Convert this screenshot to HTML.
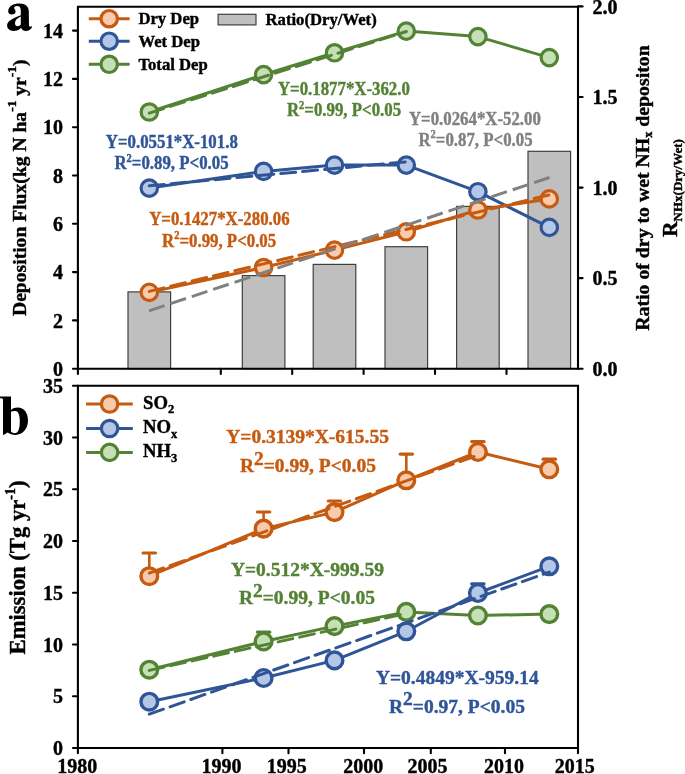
<!DOCTYPE html>
<html><head><meta charset="utf-8"><style>
html,body{margin:0;padding:0;background:#fff;width:685px;height:774px;overflow:hidden}
svg{display:block;font-family:"Liberation Serif",serif;font-weight:bold;will-change:transform}
text{stroke-width:0.4px;stroke-linejoin:round}
</style></head><body>
<svg width="685" height="774" viewBox="0 0 685 774">
<rect x="128.0" y="291.9" width="42.6" height="76.8" fill="#BFBFBF" stroke="#404040" stroke-width="1.2"/>
<rect x="242.3" y="275.6" width="42.6" height="93.1" fill="#BFBFBF" stroke="#404040" stroke-width="1.2"/>
<rect x="313.2" y="264.4" width="42.6" height="104.3" fill="#BFBFBF" stroke="#404040" stroke-width="1.2"/>
<rect x="385.0" y="246.7" width="42.6" height="122.0" fill="#BFBFBF" stroke="#404040" stroke-width="1.2"/>
<rect x="456.6" y="206.4" width="42.6" height="162.3" fill="#BFBFBF" stroke="#404040" stroke-width="1.2"/>
<rect x="528.0" y="151.3" width="42.6" height="217.3" fill="#BFBFBF" stroke="#404040" stroke-width="1.2"/>
<polyline points="149.3,188.1 263.6,171.4 334.5,165.1 406.3,165.1 477.9,191.7 549.3,227.4" fill="none" stroke="#2F5597" stroke-width="3.0" stroke-linejoin="round"/>
<circle cx="149.3" cy="188.1" r="8.2" fill="#B4C7E7" stroke="#2F5597" stroke-width="3.2"/>
<circle cx="263.6" cy="171.4" r="8.2" fill="#B4C7E7" stroke="#2F5597" stroke-width="3.2"/>
<circle cx="334.5" cy="165.1" r="8.2" fill="#B4C7E7" stroke="#2F5597" stroke-width="3.2"/>
<circle cx="406.3" cy="165.1" r="8.2" fill="#B4C7E7" stroke="#2F5597" stroke-width="3.2"/>
<circle cx="477.9" cy="191.7" r="8.2" fill="#B4C7E7" stroke="#2F5597" stroke-width="3.2"/>
<circle cx="549.3" cy="227.4" r="8.2" fill="#B4C7E7" stroke="#2F5597" stroke-width="3.2"/>
<polyline points="149.3,112.0 263.6,74.6 334.5,52.8 406.3,31.1 477.9,36.6 549.3,57.6" fill="none" stroke="#548235" stroke-width="3.0" stroke-linejoin="round"/>
<circle cx="149.3" cy="112.0" r="8.2" fill="#C5E0B4" stroke="#548235" stroke-width="3.2"/>
<circle cx="263.6" cy="74.6" r="8.2" fill="#C5E0B4" stroke="#548235" stroke-width="3.2"/>
<circle cx="334.5" cy="52.8" r="8.2" fill="#C5E0B4" stroke="#548235" stroke-width="3.2"/>
<circle cx="406.3" cy="31.1" r="8.2" fill="#C5E0B4" stroke="#548235" stroke-width="3.2"/>
<circle cx="477.9" cy="36.6" r="8.2" fill="#C5E0B4" stroke="#548235" stroke-width="3.2"/>
<circle cx="549.3" cy="57.6" r="8.2" fill="#C5E0B4" stroke="#548235" stroke-width="3.2"/>
<polyline points="149.3,292.4 263.6,267.5 334.5,250.1 406.3,231.8 477.9,210.0 549.3,198.9" fill="none" stroke="#C55A11" stroke-width="3.0" stroke-linejoin="round"/>
<circle cx="149.3" cy="292.4" r="8.2" fill="#F8CBAD" stroke="#C55A11" stroke-width="3.2"/>
<circle cx="263.6" cy="267.5" r="8.2" fill="#F8CBAD" stroke="#C55A11" stroke-width="3.2"/>
<circle cx="334.5" cy="250.1" r="8.2" fill="#F8CBAD" stroke="#C55A11" stroke-width="3.2"/>
<circle cx="406.3" cy="231.8" r="8.2" fill="#F8CBAD" stroke="#C55A11" stroke-width="3.2"/>
<circle cx="477.9" cy="210.0" r="8.2" fill="#F8CBAD" stroke="#C55A11" stroke-width="3.2"/>
<circle cx="549.3" cy="198.9" r="8.2" fill="#F8CBAD" stroke="#C55A11" stroke-width="3.2"/>
<line x1="149.3" y1="185.8" x2="406.4" y2="161.8" stroke="#2F5597" stroke-width="3.0" stroke-linecap="round" stroke-dasharray="15 7"/>
<line x1="149.3" y1="113.1" x2="406.4" y2="31.5" stroke="#548235" stroke-width="3.0" stroke-linecap="round" stroke-dasharray="15 7"/>
<line x1="149.3" y1="291.4" x2="549.3" y2="194.9" stroke="#C55A11" stroke-width="3.0" stroke-linecap="round" stroke-dasharray="15 7"/>
<line x1="149.0" y1="310.8" x2="549.5" y2="177.5" stroke="#808080" stroke-width="3.0" stroke-linecap="butt" stroke-dasharray="16.4 6.15"/>
<path d="M77.9,6.7 V368.7 H578.0 V6.7 Z" fill="none" stroke="#000" stroke-width="2.1"/>
<line x1="73.0" y1="368.7" x2="77.9" y2="368.7" stroke="#000" stroke-width="2.1" stroke-linecap="round"/>
<text x="63.0" y="375.8" font-size="20" fill="#000" stroke="#000" text-anchor="end">0</text>
<line x1="73.0" y1="320.4" x2="77.9" y2="320.4" stroke="#000" stroke-width="2.1" stroke-linecap="round"/>
<text x="63.0" y="327.5" font-size="20" fill="#000" stroke="#000" text-anchor="end">2</text>
<line x1="73.0" y1="272.1" x2="77.9" y2="272.1" stroke="#000" stroke-width="2.1" stroke-linecap="round"/>
<text x="63.0" y="279.2" font-size="20" fill="#000" stroke="#000" text-anchor="end">4</text>
<line x1="73.0" y1="223.8" x2="77.9" y2="223.8" stroke="#000" stroke-width="2.1" stroke-linecap="round"/>
<text x="63.0" y="230.9" font-size="20" fill="#000" stroke="#000" text-anchor="end">6</text>
<line x1="73.0" y1="175.5" x2="77.9" y2="175.5" stroke="#000" stroke-width="2.1" stroke-linecap="round"/>
<text x="63.0" y="182.6" font-size="20" fill="#000" stroke="#000" text-anchor="end">8</text>
<line x1="73.0" y1="127.2" x2="77.9" y2="127.2" stroke="#000" stroke-width="2.1" stroke-linecap="round"/>
<text x="63.0" y="134.3" font-size="20" fill="#000" stroke="#000" text-anchor="end">10</text>
<line x1="73.0" y1="78.9" x2="77.9" y2="78.9" stroke="#000" stroke-width="2.1" stroke-linecap="round"/>
<text x="63.0" y="86.0" font-size="20" fill="#000" stroke="#000" text-anchor="end">12</text>
<line x1="73.0" y1="30.6" x2="77.9" y2="30.6" stroke="#000" stroke-width="2.1" stroke-linecap="round"/>
<text x="63.0" y="37.7" font-size="20" fill="#000" stroke="#000" text-anchor="end">14</text>
<line x1="578.0" y1="368.7" x2="582.6" y2="368.7" stroke="#000" stroke-width="2.1" stroke-linecap="round"/>
<text x="592.5" y="375.9" font-size="20" fill="#000" stroke="#000" text-anchor="start">0.0</text>
<line x1="578.0" y1="278.1" x2="582.6" y2="278.1" stroke="#000" stroke-width="2.1" stroke-linecap="round"/>
<text x="592.5" y="285.3" font-size="20" fill="#000" stroke="#000" text-anchor="start">0.5</text>
<line x1="578.0" y1="187.6" x2="582.6" y2="187.6" stroke="#000" stroke-width="2.1" stroke-linecap="round"/>
<text x="592.5" y="194.8" font-size="20" fill="#000" stroke="#000" text-anchor="start">1.0</text>
<line x1="578.0" y1="97.0" x2="582.6" y2="97.0" stroke="#000" stroke-width="2.1" stroke-linecap="round"/>
<text x="592.5" y="104.2" font-size="20" fill="#000" stroke="#000" text-anchor="start">1.5</text>
<line x1="578.0" y1="6.4" x2="582.6" y2="6.4" stroke="#000" stroke-width="2.1" stroke-linecap="round"/>
<text x="592.5" y="13.6" font-size="20" fill="#000" stroke="#000" text-anchor="start">2.0</text>
<line x1="77.9" y1="368.7" x2="77.9" y2="374.0" stroke="#000" stroke-width="2.1" stroke-linecap="round"/>
<line x1="220.8" y1="368.7" x2="220.8" y2="374.0" stroke="#000" stroke-width="2.1" stroke-linecap="round"/>
<line x1="292.2" y1="368.7" x2="292.2" y2="374.0" stroke="#000" stroke-width="2.1" stroke-linecap="round"/>
<line x1="363.6" y1="368.7" x2="363.6" y2="374.0" stroke="#000" stroke-width="2.1" stroke-linecap="round"/>
<line x1="435.0" y1="368.7" x2="435.0" y2="374.0" stroke="#000" stroke-width="2.1" stroke-linecap="round"/>
<line x1="506.5" y1="368.7" x2="506.5" y2="374.0" stroke="#000" stroke-width="2.1" stroke-linecap="round"/>
<line x1="88.8" y1="18.7" x2="129.6" y2="18.7" stroke="#C55A11" stroke-width="3.0" stroke-linecap="butt"/>
<circle cx="109.2" cy="18.7" r="8.2" fill="#F8CBAD" stroke="#C55A11" stroke-width="3.2"/>
<text x="138.4" y="24.1" font-size="16.7" fill="#000" stroke="#000" text-anchor="start">Dry Dep</text>
<line x1="88.8" y1="41.2" x2="129.6" y2="41.2" stroke="#2F5597" stroke-width="3.0" stroke-linecap="butt"/>
<circle cx="109.2" cy="41.2" r="8.2" fill="#B4C7E7" stroke="#2F5597" stroke-width="3.2"/>
<text x="138.4" y="46.6" font-size="16.7" fill="#000" stroke="#000" text-anchor="start">Wet Dep</text>
<line x1="88.8" y1="64.3" x2="129.6" y2="64.3" stroke="#548235" stroke-width="3.0" stroke-linecap="butt"/>
<circle cx="109.2" cy="64.3" r="8.2" fill="#C5E0B4" stroke="#548235" stroke-width="3.2"/>
<text x="138.4" y="69.7" font-size="16.7" fill="#000" stroke="#000" text-anchor="start">Total Dep</text>
<rect x="218.1" y="14.3" width="37.9" height="10.6" fill="#BFBFBF" stroke="#404040" stroke-width="1.2"/>
<text x="265.5" y="25.0" font-size="16.7" fill="#000" stroke="#000" text-anchor="start">Ratio(Dry/Wet)</text>
<text transform="translate(171.8,148.0) scale(0.91,1)" font-size="18.5" fill="#2F5597" stroke="#2F5597" text-anchor="middle">Y=0.0551*X-101.8</text>
<text transform="translate(171.5,169.4) scale(0.91,1)" font-size="18.5" fill="#2F5597" stroke="#2F5597" text-anchor="middle">R<tspan font-size="11.5" dy="-7.5">2</tspan><tspan dy="7.5">=0.89, P&lt;0.05</tspan></text>
<text transform="translate(343.9,94.9) scale(0.91,1)" font-size="18.5" fill="#548235" stroke="#548235" text-anchor="middle">Y=0.1877*X-362.0</text>
<text transform="translate(344.0,116.3) scale(0.91,1)" font-size="18.5" fill="#548235" stroke="#548235" text-anchor="middle">R<tspan font-size="11.5" dy="-7.5">2</tspan><tspan dy="7.5">=0.99, P&lt;0.05</tspan></text>
<text transform="translate(474.9,124.7) scale(0.91,1)" font-size="18.5" fill="#808080" stroke="#808080" text-anchor="middle">Y=0.0264*X-52.00</text>
<text transform="translate(475.5,145.9) scale(0.91,1)" font-size="18.5" fill="#808080" stroke="#808080" text-anchor="middle">R<tspan font-size="11.5" dy="-7.5">2</tspan><tspan dy="7.5">=0.87, P&lt;0.05</tspan></text>
<text transform="translate(219.4,225.3) scale(0.91,1)" font-size="18.5" fill="#C55A11" stroke="#C55A11" text-anchor="middle">Y=0.1427*X-280.06</text>
<text transform="translate(219.1,246.6) scale(0.91,1)" font-size="18.5" fill="#C55A11" stroke="#C55A11" text-anchor="middle">R<tspan font-size="11.5" dy="-7.5">2</tspan><tspan dy="7.5">=0.99, P&lt;0.05</tspan></text>
<text stroke="#000" transform="translate(26.0,187.7) rotate(-90)" font-size="19.6" text-anchor="middle">Deposition Flux(kg N ha<tspan font-size="13.5" dy="-10.2">-1</tspan><tspan dy="10.2"> yr</tspan><tspan font-size="13.5" dy="-10.2">-1</tspan><tspan dy="10.2">)</tspan></text>
<text stroke="#000" transform="translate(648.8,188.0) rotate(-90)" font-size="19.8" text-anchor="middle">Ratio of dry to wet NH<tspan font-size="12.4" dy="3.5">x</tspan><tspan dy="-3.5"> depositon</tspan></text>
<text stroke="#000" transform="translate(676.5,188) rotate(-90)" font-size="21.5" text-anchor="middle">R<tspan font-size="13" dy="5">NHx(Dry/Wet)</tspan></text>
<path fill="#000" fill-rule="evenodd" d="M8.2,11.5 C8.2,6 13.5,3.5 19.4,3.5 C25.5,3.5 28.6,6.5 28.8,11 L29.0,25.6 C29.1,26.8 30.2,27.0 31.9,26.3 L32.2,26.9 C30.8,29.6 28.5,31.0 26.0,31.0 C23.2,31.0 21.6,29.6 21.1,27.8 C19.2,29.9 16.5,31.0 13.6,31.0 C9.6,31.0 7.1,28.7 7.1,25.6 C7.1,21.2 11.5,18.8 20.8,15.2 L20.8,10.5 C20.8,7.3 19.3,5.9 17.2,5.9 C15.4,5.9 14.1,6.8 14.1,7.9 C14.1,8.8 15.6,9.6 15.6,11.6 C15.6,13.4 14.2,14.6 12.0,14.6 C9.7,14.6 8.2,13.3 8.2,11.5 Z M20.8,16.6 C16.8,18.5 15.0,20.6 15.0,23.3 C15.0,25.1 16.1,26.2 17.6,26.2 C18.9,26.2 20.1,25.5 20.8,24.6 Z"/>
<line x1="149.3" y1="553.0" x2="149.3" y2="576.2" stroke="#C55A11" stroke-width="2.6"/>
<line x1="143.1" y1="553.0" x2="155.5" y2="553.0" stroke="#C55A11" stroke-width="3.2" stroke-linecap="round"/>
<line x1="263.6" y1="512.0" x2="263.6" y2="528.6" stroke="#C55A11" stroke-width="2.6"/>
<line x1="257.4" y1="512.0" x2="269.8" y2="512.0" stroke="#C55A11" stroke-width="3.2" stroke-linecap="round"/>
<line x1="334.5" y1="501.0" x2="334.5" y2="512.1" stroke="#C55A11" stroke-width="2.6"/>
<line x1="328.3" y1="501.0" x2="340.7" y2="501.0" stroke="#C55A11" stroke-width="3.2" stroke-linecap="round"/>
<line x1="406.3" y1="454.1" x2="406.3" y2="480.3" stroke="#C55A11" stroke-width="2.6"/>
<line x1="400.1" y1="454.1" x2="412.5" y2="454.1" stroke="#C55A11" stroke-width="3.2" stroke-linecap="round"/>
<line x1="477.9" y1="441.6" x2="477.9" y2="452.0" stroke="#C55A11" stroke-width="2.6"/>
<line x1="471.7" y1="441.6" x2="484.1" y2="441.6" stroke="#C55A11" stroke-width="3.2" stroke-linecap="round"/>
<line x1="549.3" y1="459.2" x2="549.3" y2="469.3" stroke="#C55A11" stroke-width="2.6"/>
<line x1="543.1" y1="459.2" x2="555.5" y2="459.2" stroke="#C55A11" stroke-width="3.2" stroke-linecap="round"/>
<line x1="477.9" y1="583.8" x2="477.9" y2="593.0" stroke="#2F5597" stroke-width="2.6"/>
<line x1="471.7" y1="583.8" x2="484.1" y2="583.8" stroke="#2F5597" stroke-width="3.2" stroke-linecap="round"/>
<line x1="263.6" y1="632.1" x2="263.6" y2="641.5" stroke="#548235" stroke-width="2.6"/>
<line x1="257.4" y1="632.1" x2="269.8" y2="632.1" stroke="#548235" stroke-width="3.2" stroke-linecap="round"/>
<polyline points="149.3,669.7 263.6,641.5 334.5,626.1 406.3,611.9 477.9,615.5 549.3,614.1" fill="none" stroke="#548235" stroke-width="3.0" stroke-linejoin="round"/>
<circle cx="149.3" cy="669.7" r="8.35" fill="#C5E0B4" stroke="#548235" stroke-width="3.4"/>
<circle cx="263.6" cy="641.5" r="8.35" fill="#C5E0B4" stroke="#548235" stroke-width="3.4"/>
<circle cx="334.5" cy="626.1" r="8.35" fill="#C5E0B4" stroke="#548235" stroke-width="3.4"/>
<circle cx="406.3" cy="611.9" r="8.35" fill="#C5E0B4" stroke="#548235" stroke-width="3.4"/>
<circle cx="477.9" cy="615.5" r="8.35" fill="#C5E0B4" stroke="#548235" stroke-width="3.4"/>
<circle cx="549.3" cy="614.1" r="8.35" fill="#C5E0B4" stroke="#548235" stroke-width="3.4"/>
<polyline points="149.3,701.7 263.6,678.0 334.5,660.4 406.3,631.3 477.9,593.0 549.3,566.3" fill="none" stroke="#2F5597" stroke-width="3.0" stroke-linejoin="round"/>
<circle cx="149.3" cy="701.7" r="8.35" fill="#B4C7E7" stroke="#2F5597" stroke-width="3.4"/>
<circle cx="263.6" cy="678.0" r="8.35" fill="#B4C7E7" stroke="#2F5597" stroke-width="3.4"/>
<circle cx="334.5" cy="660.4" r="8.35" fill="#B4C7E7" stroke="#2F5597" stroke-width="3.4"/>
<circle cx="406.3" cy="631.3" r="8.35" fill="#B4C7E7" stroke="#2F5597" stroke-width="3.4"/>
<circle cx="477.9" cy="593.0" r="8.35" fill="#B4C7E7" stroke="#2F5597" stroke-width="3.4"/>
<circle cx="549.3" cy="566.3" r="8.35" fill="#B4C7E7" stroke="#2F5597" stroke-width="3.4"/>
<polyline points="149.3,576.2 263.6,528.6 334.5,512.1 406.3,480.3 477.9,452.0 549.3,469.3" fill="none" stroke="#C55A11" stroke-width="3.0" stroke-linejoin="round"/>
<circle cx="149.3" cy="576.2" r="8.35" fill="#F8CBAD" stroke="#C55A11" stroke-width="3.4"/>
<circle cx="263.6" cy="528.6" r="8.35" fill="#F8CBAD" stroke="#C55A11" stroke-width="3.4"/>
<circle cx="334.5" cy="512.1" r="8.35" fill="#F8CBAD" stroke="#C55A11" stroke-width="3.4"/>
<circle cx="406.3" cy="480.3" r="8.35" fill="#F8CBAD" stroke="#C55A11" stroke-width="3.4"/>
<circle cx="477.9" cy="452.0" r="8.35" fill="#F8CBAD" stroke="#C55A11" stroke-width="3.4"/>
<circle cx="549.3" cy="469.3" r="8.35" fill="#F8CBAD" stroke="#C55A11" stroke-width="3.4"/>
<line x1="149.3" y1="573.1" x2="477.9" y2="455.1" stroke="#C55A11" stroke-width="3.0" stroke-linecap="round" stroke-dasharray="15 7"/>
<line x1="149.3" y1="670.4" x2="406.3" y2="613.5" stroke="#548235" stroke-width="3.0" stroke-linecap="round" stroke-dasharray="15 7"/>
<line x1="149.3" y1="714.2" x2="549.3" y2="572.1" stroke="#2F5597" stroke-width="3.0" stroke-linecap="round" stroke-dasharray="15 7"/>
<path d="M77.9,385.8 V748.0 H578.0 V385.8 Z" fill="none" stroke="#000" stroke-width="2.1"/>
<line x1="73.0" y1="748.0" x2="77.9" y2="748.0" stroke="#000" stroke-width="2.1" stroke-linecap="round"/>
<text x="63.0" y="755.1" font-size="20" fill="#000" stroke="#000" text-anchor="end">0</text>
<line x1="73.0" y1="696.2" x2="77.9" y2="696.2" stroke="#000" stroke-width="2.1" stroke-linecap="round"/>
<text x="63.0" y="703.4" font-size="20" fill="#000" stroke="#000" text-anchor="end">5</text>
<line x1="73.0" y1="644.5" x2="77.9" y2="644.5" stroke="#000" stroke-width="2.1" stroke-linecap="round"/>
<text x="63.0" y="651.6" font-size="20" fill="#000" stroke="#000" text-anchor="end">10</text>
<line x1="73.0" y1="592.8" x2="77.9" y2="592.8" stroke="#000" stroke-width="2.1" stroke-linecap="round"/>
<text x="63.0" y="599.9" font-size="20" fill="#000" stroke="#000" text-anchor="end">15</text>
<line x1="73.0" y1="541.0" x2="77.9" y2="541.0" stroke="#000" stroke-width="2.1" stroke-linecap="round"/>
<text x="63.0" y="548.1" font-size="20" fill="#000" stroke="#000" text-anchor="end">20</text>
<line x1="73.0" y1="489.2" x2="77.9" y2="489.2" stroke="#000" stroke-width="2.1" stroke-linecap="round"/>
<text x="63.0" y="496.4" font-size="20" fill="#000" stroke="#000" text-anchor="end">25</text>
<line x1="73.0" y1="437.5" x2="77.9" y2="437.5" stroke="#000" stroke-width="2.1" stroke-linecap="round"/>
<text x="63.0" y="444.6" font-size="20" fill="#000" stroke="#000" text-anchor="end">30</text>
<line x1="73.0" y1="385.8" x2="77.9" y2="385.8" stroke="#000" stroke-width="2.1" stroke-linecap="round"/>
<text x="63.0" y="392.9" font-size="20" fill="#000" stroke="#000" text-anchor="end">35</text>
<line x1="77.9" y1="748.0" x2="77.9" y2="753.2" stroke="#000" stroke-width="2.1" stroke-linecap="round"/>
<text x="77.3" y="773.4" font-size="20" fill="#000" stroke="#000" text-anchor="middle">1980</text>
<line x1="222.4" y1="748.0" x2="222.4" y2="753.2" stroke="#000" stroke-width="2.1" stroke-linecap="round"/>
<text x="221.5" y="773.4" font-size="20" fill="#000" stroke="#000" text-anchor="middle">1990</text>
<line x1="288.5" y1="748.0" x2="288.5" y2="753.2" stroke="#000" stroke-width="2.1" stroke-linecap="round"/>
<text x="286.7" y="773.4" font-size="20" fill="#000" stroke="#000" text-anchor="middle">1995</text>
<line x1="364.0" y1="748.0" x2="364.0" y2="753.2" stroke="#000" stroke-width="2.1" stroke-linecap="round"/>
<text x="363.2" y="773.4" font-size="20" fill="#000" stroke="#000" text-anchor="middle">2000</text>
<line x1="430.8" y1="748.0" x2="430.8" y2="753.2" stroke="#000" stroke-width="2.1" stroke-linecap="round"/>
<text x="427.6" y="773.4" font-size="20" fill="#000" stroke="#000" text-anchor="middle">2005</text>
<line x1="505.0" y1="748.0" x2="505.0" y2="753.2" stroke="#000" stroke-width="2.1" stroke-linecap="round"/>
<text x="504.1" y="773.4" font-size="20" fill="#000" stroke="#000" text-anchor="middle">2010</text>
<line x1="578.0" y1="748.0" x2="578.0" y2="753.2" stroke="#000" stroke-width="2.1" stroke-linecap="round"/>
<text x="574.8" y="773.4" font-size="20" fill="#000" stroke="#000" text-anchor="middle">2015</text>
<line x1="86.1" y1="404.0" x2="132.8" y2="404.0" stroke="#C55A11" stroke-width="3.0" stroke-linecap="butt"/>
<circle cx="109.6" cy="404.0" r="8.2" fill="#F8CBAD" stroke="#C55A11" stroke-width="3.2"/>
<text x="143.0" y="408.6" font-size="18.7" fill="#000" stroke="#000" text-anchor="start">SO<tspan font-size="12.5" dy="4.5">2</tspan></text>
<line x1="86.1" y1="428.5" x2="132.8" y2="428.5" stroke="#2F5597" stroke-width="3.0" stroke-linecap="butt"/>
<circle cx="109.6" cy="428.5" r="8.2" fill="#B4C7E7" stroke="#2F5597" stroke-width="3.2"/>
<text x="143.0" y="433.1" font-size="18.7" fill="#000" stroke="#000" text-anchor="start">NO<tspan font-size="12.5" dy="4.5">x</tspan></text>
<line x1="86.1" y1="452.4" x2="132.8" y2="452.4" stroke="#548235" stroke-width="3.0" stroke-linecap="butt"/>
<circle cx="109.6" cy="452.4" r="8.2" fill="#C5E0B4" stroke="#548235" stroke-width="3.2"/>
<text x="143.0" y="457.0" font-size="18.7" fill="#000" stroke="#000" text-anchor="start">NH<tspan font-size="12.5" dy="4.5">3</tspan></text>
<text x="307.6" y="442.7" font-size="19.5" fill="#C55A11" stroke="#C55A11" text-anchor="middle">Y=0.3139*X-615.55</text>
<text x="307.9" y="472.1" font-size="19.5" fill="#C55A11" stroke="#C55A11" text-anchor="middle">R<tspan dy="-7.5">2</tspan><tspan dy="7.5">=0.99, P&lt;0.05</tspan></text>
<text x="307.4" y="575.8" font-size="19.5" fill="#548235" stroke="#548235" text-anchor="middle">Y=0.512*X-999.59</text>
<text x="306.9" y="604.4" font-size="19.5" fill="#548235" stroke="#548235" text-anchor="middle">R<tspan dy="-7.5">2</tspan><tspan dy="7.5">=0.99, P&lt;0.05</tspan></text>
<text x="457.3" y="684.1" font-size="19.5" fill="#2F5597" stroke="#2F5597" text-anchor="middle">Y=0.4849*X-959.14</text>
<text x="457.0" y="712.7" font-size="19.5" fill="#2F5597" stroke="#2F5597" text-anchor="middle">R<tspan dy="-7.5">2</tspan><tspan dy="7.5">=0.97, P&lt;0.05</tspan></text>
<text stroke="#000" transform="translate(25.0,567.4) rotate(-90) scale(0.944,1)" font-size="24" text-anchor="middle">Emission (Tg yr<tspan font-size="15" dy="-10">-1</tspan><tspan dy="10">)</tspan></text>
<path fill="#000" fill-rule="evenodd" d="M0,396.5 L11,396.5 L11,409.9 C12.8,408.3 15.2,407.5 17.9,407.5 C23.8,407.5 28,412.8 28,420.6 C28,429 22.5,434.9 15.5,434.9 C12.2,434.9 9.8,433.8 7.7,432.5 L3.4,435.1 L3,435.1 L3,399.6 C3,398.6 2,398.3 0,398.3 Z M11,411.8 L11,431.5 C12,432.6 13.3,433.2 14.8,433.2 C18,433.2 19.8,429 19.8,421.5 C19.8,414.8 18.2,411 15.4,411 C13.6,411 12.1,411.5 11,411.8 Z"/>
</svg>
</body></html>
